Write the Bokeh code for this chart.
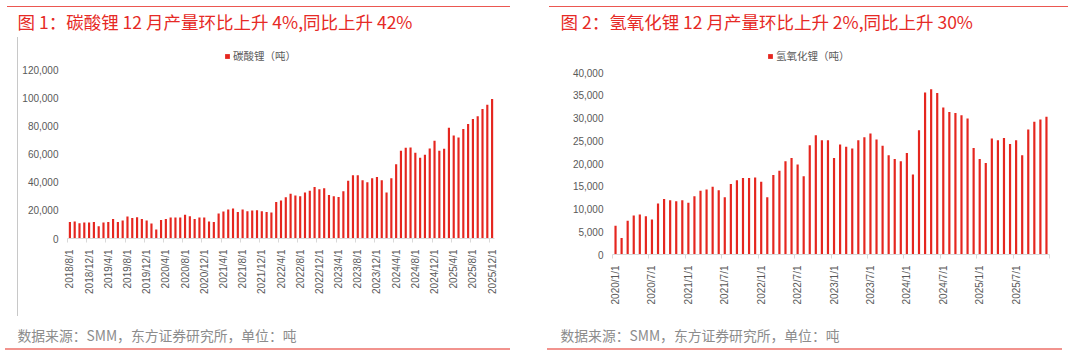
import math
from bokeh.plotting import figure
from bokeh.layouts import row, column
from bokeh.models import (ColumnDataSource, FixedTicker, NumeralTickFormatter,
                          Legend, LegendItem, Range1d, Title, LinearAxis)
from bokeh.embed import file_html
from bokeh.resources import INLINE

# ---------------- data ----------------
# 碳酸锂 monthly output, 2018/8 - 2025/12 (tonnes)
carb_months = [f"{y}/{m}/1" for y in range(2018, 2026) for m in range(1, 13)
               if (y, m) >= (2018, 8)]
carb_values = [11800, 12000, 10900, 11300, 11300, 11800, 8700, 11300, 11800, 13900,
               11800, 12800, 15600, 14600, 15100, 13900, 12800, 10600, 6400, 13200,
               13900, 14900, 14900, 14900, 16800, 15800, 13900, 14900, 14900, 12000,
               11800, 17700, 19100, 20600, 21300, 18900, 20600, 19400, 19800, 20100,
               19400, 18900, 18400, 26000, 26900, 29300, 31700, 30500, 30000, 32600,
               34000, 36600, 35000, 35700, 30900, 30000, 29500, 33500, 41100, 44900,
               44900, 41300, 39900, 42800, 43700, 41300, 32600, 42800, 52700, 62400,
               64500, 64700, 60900, 57400, 59500, 64000, 69500, 62400, 63800, 78700,
               73200, 71800, 77700, 81300, 84800, 86900, 91900, 95000, 99000]
carb_tick_labels = carb_months[::4]

# 氢氧化锂 monthly output, 2020/1 - 2025/12 (tonnes)
hyd_months = [f"{y}/{m}/1" for y in range(2020, 2026) for m in range(1, 13)]
hyd_values = [6300, 3600, 7400, 8600, 8800, 8400, 7700, 11200, 12200, 11900,
              11700, 11900, 11400, 12800, 14000, 14300, 14900, 14100, 12600, 15500,
              16300, 16800, 16800, 16900, 16000, 12600, 17500, 18400, 20500, 21200,
              19800, 17200, 24000, 26200, 25100, 25100, 21200, 24200, 23700, 23300,
              25100, 25800, 26600, 25300, 23900, 21800, 21000, 20500, 22300, 17600,
              27300, 35600, 36300, 35500, 32300, 31300, 31100, 30600, 29900, 23400,
              21000, 20100, 25500, 25100, 25600, 24300, 25100, 21800, 27500, 29200,
              29700, 30300]
hyd_tick_labels = hyd_months[::6]

titles = ["图 1：碳酸锂 12 月产量环比上升 4%,同比上升 42%",
          "图 2：氢氧化锂 12 月产量环比上升 2%,同比上升 30%"]
legend_labels = ["碳酸锂（吨）", "氢氧化锂（吨）"]
source_text = "数据来源：SMM，东方证券研究所，单位：吨"

# ---------------- style ----------------
RED = "#E5261F"
TITLE_RED = "#E62A26"
GREY_TXT = "#595959"
AXIS_GREY = "#D9D9D9"
CJK = "Noto Sans CJK SC"
LAT = "Liberation Sans"


def rules_css(top, bottom, vert=None):
    """Decorative page rules drawn as CSS backgrounds behind the plot canvas."""
    imgs, sizes, poss = [], [], []
    for (x0, x1, y, h, c) in [top, bottom]:
        imgs.append(f"linear-gradient({c},{c})")
        sizes.append(f"{x1 - x0}px {h}px")
        poss.append(f"{x0}px {y}px")
    if vert is not None:
        x, y0, y1, c = vert
        imgs.append(f"linear-gradient({c},{c})")
        sizes.append(f"1px {y1 - y0}px")
        poss.append(f"{x}px {y0}px")
    return {"background-color": "white",
            "background-image": ", ".join(imgs),
            "background-size": ", ".join(sizes),
            "background-position": ", ".join(poss),
            "background-repeat": "no-repeat"}


def make_panel(months, values, tick_step, tick_labels, y_end, y_step, y_max,
               bar_width, borders, title, title_offset, title_standoff,
               spacer, legend_label, legend_loc, css):
    bl, br, bt, bb = borders
    n = len(months)
    idx = list(range(n))
    src = ColumnDataSource(dict(x=idx, top=values, month=months))
    p = figure(width=534, height=355, output_backend="svg", toolbar_location=None,
               x_range=Range1d(-0.5, n - 0.5), y_range=Range1d(0, y_end),
               min_border_left=bl, min_border_right=br, min_border_top=bt,
               min_border_bottom=bb, outline_line_color=None,
               background_fill_color=None, border_fill_color=None)
    p.styles = css
    p.grid.visible = False
    r = p.vbar(x="x", top="top", width=bar_width, source=src, fill_color=RED,
               line_color=None)

    ticks = idx[::tick_step]
    minor = [t - 0.5 for t in range(0, n + 1, tick_step)]
    p.xaxis.ticker = FixedTicker(ticks=ticks, minor_ticks=minor)
    p.xaxis.major_label_overrides = {t: lab for t, lab in zip(ticks, tick_labels)}
    p.xaxis.major_label_orientation = math.pi / 2
    p.xaxis.major_tick_line_color = None
    p.xaxis.major_tick_out = 0
    p.xaxis.major_tick_in = 0
    p.xaxis.minor_tick_line_color = AXIS_GREY
    p.xaxis.minor_tick_out = 4
    p.xaxis.minor_tick_in = 0
    p.xaxis.axis_line_color = AXIS_GREY
    p.xaxis.major_label_standoff = 7
    p.xaxis.major_label_text_font = LAT
    p.xaxis.major_label_text_font_size = "10px"
    p.xaxis.major_label_text_color = GREY_TXT

    p.yaxis.ticker = FixedTicker(ticks=list(range(0, y_max + 1, y_step)))
    p.yaxis.formatter = NumeralTickFormatter(format="0,0")
    p.yaxis.axis_line_color = None
    p.yaxis.major_tick_line_color = None
    p.yaxis.minor_tick_line_color = None
    p.yaxis.major_tick_out = 0
    p.yaxis.major_tick_in = 0
    p.yaxis.major_label_standoff = 9
    p.yaxis.major_label_text_font = LAT
    p.yaxis.major_label_text_font_size = "10px"
    p.yaxis.major_label_text_color = GREY_TXT

    leg = Legend(items=[LegendItem(label=legend_label, renderers=[r])],
                 location=legend_loc, orientation="horizontal",
                 glyph_width=6, glyph_height=6, label_height=12, label_standoff=3,
                 padding=0, margin=0, background_fill_alpha=0,
                 border_line_color=None, label_text_font=CJK,
                 label_text_font_size="10.5px", label_text_color=GREY_TXT)
    p.add_layout(leg)

    p.add_layout(Title(text=title, align="left", offset=title_offset,
                       standoff=title_standoff, vertical_align="top", text_font=CJK,
                       text_font_size="17.5px", text_font_style="normal",
                       text_color=TITLE_RED), "above")

    # blank spacer axis (one invisible white tick) between the date labels and the note
    gap = LinearAxis(ticker=FixedTicker(ticks=idx[:1], minor_ticks=[]),
                     axis_line_color=None,
                     major_tick_line_color="white", minor_tick_line_color=None,
                     major_tick_out=spacer, major_tick_in=0, minor_tick_out=0,
                     minor_tick_in=0, major_label_standoff=0,
                     major_label_overrides={idx[0]: ""},
                     major_label_text_font_size="0px")
    p.add_layout(gap, "below")
    p.add_layout(Title(text=source_text, align="left", offset=title_offset,
                       standoff=4, vertical_align="top", text_font=CJK,
                       text_font_size="13.8px", text_font_style="normal",
                       text_color="#8C8C8C"), "below")
    return p


# left panel: frame x 67..494, y 42..238
p1 = make_panel(carb_months, carb_values, 4, carb_tick_labels, 139200, 20000, 120000,
                0.45, (67, 40, 42, 117), titles[0], -50, 14, 26,
                legend_labels[0], (157, 175),
                rules_css((7, 510, 6, 1, "#EB5751"), (5, 510, 348, 2, "#F2938E"),
                          (17, 37, 316, "#C8C8C8")))
# right panel: frame x 612..1049, y 42..254
p2 = make_panel(hyd_months, hyd_values, 6, hyd_tick_labels, 46600, 5000, 40000,
                0.36, (78, 19, 42, 101), titles[1], -52, 14, 15,
                legend_labels[1], (155, 191),
                rules_css((15, 534, 6, 1, "#EB5751"), (13, 528, 348, 2, "#F2938E")))

layout = row(column(p1), column(p2), spacing=0)
open("out.html", "w").write(file_html(layout, INLINE))
